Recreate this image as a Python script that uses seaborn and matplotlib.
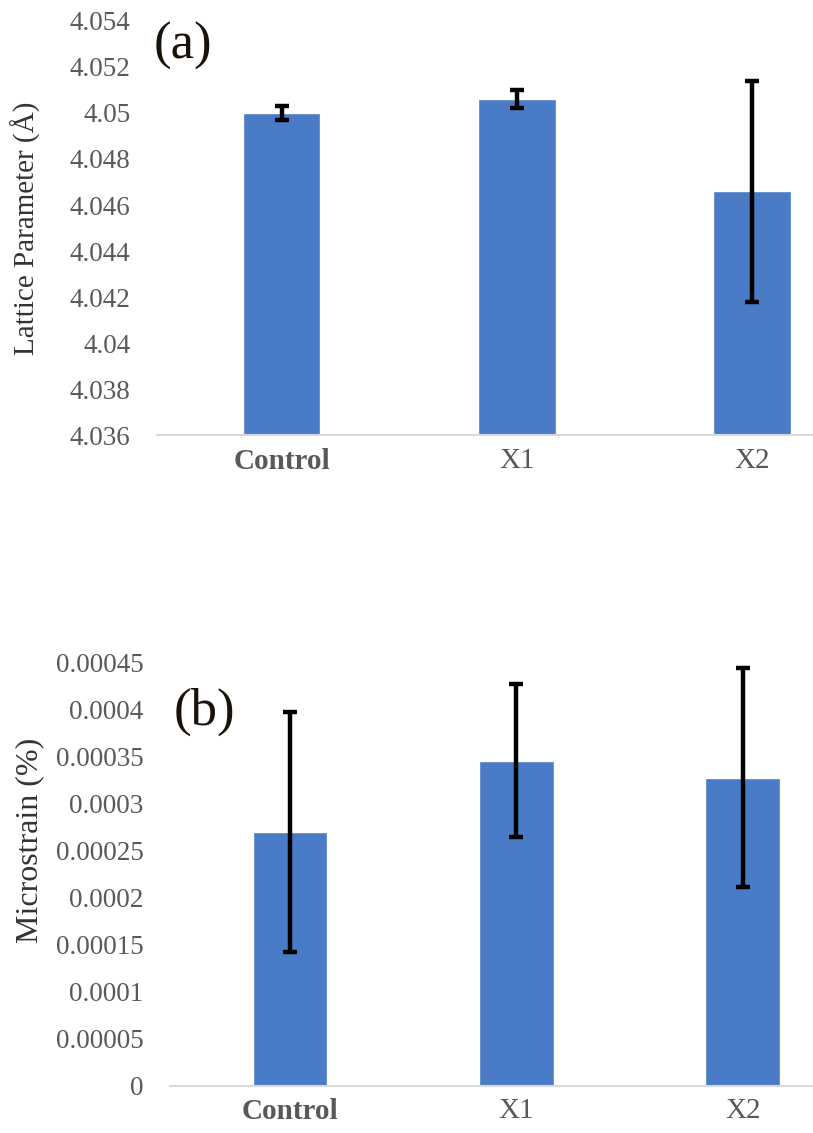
import numpy as np
import pandas as pd
import matplotlib
matplotlib.use("Agg")
import matplotlib.pyplot as plt
import seaborn as sns

# ---- data ----
categories = ["Control", "X1", "X2"]

lattice = [4.0500, 4.0506, 4.0466]
lattice_err = [0.0003, 0.0004, 0.0048]
lattice_ticks = [4.036, 4.038, 4.04, 4.042, 4.044, 4.046, 4.048, 4.05, 4.052, 4.054]
lattice_ticklabels = ["4.036", "4.038", "4.04", "4.042", "4.044", "4.046",
                      "4.048", "4.05", "4.052", "4.054"]

strain = [0.000270, 0.000346, 0.000328]
strain_err = [0.000128, 0.000081, 0.000116]
strain_ticks = [0, 0.00005, 0.0001, 0.00015, 0.0002, 0.00025, 0.0003,
                0.00035, 0.0004, 0.00045]
strain_ticklabels = ["0", "0.00005", "0.0001", "0.00015", "0.0002", "0.00025",
                     "0.0003", "0.00035", "0.0004", "0.00045"]

sns.set_theme(style="white")
plt.rcParams['font.family'] = ['Liberation Serif', 'DejaVu Serif']

BAR = "#4a7bc7"
TICK_GREY = "#595959"

fig = plt.figure(figsize=(8.13, 11.33), dpi=100)
ax_a = fig.add_axes([0.193, 0.616, 0.807, 0.3655])
ax_b = fig.add_axes([0.209, 0.0415, 0.791, 0.3735])


def draw_panel(ax, vals, errs, ticks, ticklabels, ylim, xlim, ylabel, tag,
               label_xy, tag_xy, label_size):
    df = pd.DataFrame({"cat": categories, "val": vals})
    sns.barplot(data=df, x="cat", y="val", color=BAR, width=0.33,
                errorbar=None, saturation=1, ax=ax)
    ax.errorbar(np.arange(len(categories)), vals, yerr=errs, fmt="none",
                ecolor="black", elinewidth=3.2, capsize=5, capthick=3.2, zorder=5)
    ax.set_ylim(*ylim)
    ax.set_xlim(*xlim)
    ax.set_yticks(ticks)
    ax.set_yticklabels(ticklabels, fontsize=19.5, color=TICK_GREY)
    ax.set_xticks(range(len(categories)))
    ax.set_xticklabels(categories, fontsize=21, color=TICK_GREY)
    ax.get_xticklabels()[0].set_fontweight("bold")
    ax.tick_params(axis="y", length=0, pad=19)
    ax.tick_params(axis="x", length=0, pad=9)
    ax.set_xlabel("")
    ax.set_ylabel(ylabel, fontsize=label_size, color="#333333")
    ax.yaxis.set_label_coords(*label_xy)
    for s in ["top", "right", "left"]:
        ax.spines[s].set_visible(False)
    ax.spines["bottom"].set_color("#d9d9d9")
    ax.spines["bottom"].set_linewidth(1.5)
    ax.patch.set_alpha(0)
    ax.text(tag_xy[0], tag_xy[1], tag, transform=ax.transAxes, fontsize=38,
            color="#1a1208", ha="left", va="center")


draw_panel(ax_a, lattice, lattice_err, lattice_ticks, lattice_ticklabels,
           (4.036, 4.054), (-0.53, 2.26), "Lattice Parameter (Å)", "(a)",
           (-0.176, 0.5), (-0.005, 0.94), 21)
draw_panel(ax_b, strain, strain_err, strain_ticks, strain_ticklabels,
           (0, 0.00045), (-0.53, 2.31), "Microstrain (%)", "(b)",
           (-0.196, 0.58), (0.006, 0.885), 23)

fig.savefig("out.png", dpi=100)
